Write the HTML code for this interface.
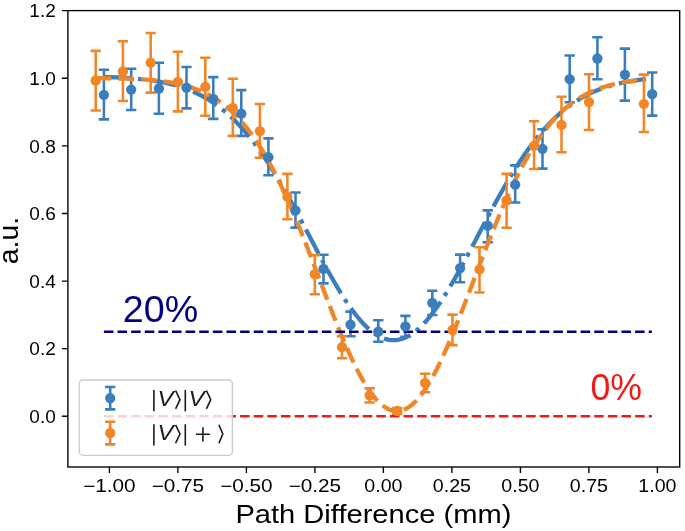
<!DOCTYPE html>
<html><head><meta charset="utf-8"><style>
html,body{margin:0;padding:0;background:#fff;width:685px;height:531px;overflow:hidden}
svg{display:block;will-change:transform}
text{font-family:"Liberation Sans",sans-serif}
</style></head><body>
<svg width="685" height="531" viewBox="0 0 685 531">
<rect x="0" y="0" width="685" height="531" fill="#ffffff"/>
<path d="M103.90,69.70V119.40M98.76,69.70H109.04M98.76,119.40H109.04M131.20,68.80V110.00M126.06,68.80H136.34M126.06,110.00H136.34M158.90,62.70V113.70M153.76,62.70H164.04M153.76,113.70H164.04M186.50,67.00V108.40M181.36,67.00H191.64M181.36,108.40H191.64M213.30,77.10V118.90M208.16,77.10H218.44M208.16,118.90H218.44M241.30,90.10V135.90M236.16,90.10H246.44M236.16,135.90H246.44M268.40,138.40V175.20M263.26,138.40H273.54M263.26,175.20H273.54M295.50,192.50V227.60M290.36,192.50H300.64M290.36,227.60H300.64M323.50,254.80V283.40M318.36,254.80H328.64M318.36,283.40H328.64M350.50,311.60V336.30M345.36,311.60H355.64M345.36,336.30H355.64M378.30,320.30V341.80M373.16,320.30H383.44M373.16,341.80H383.44M405.40,315.90V336.70M400.26,315.90H410.54M400.26,336.70H410.54M432.30,290.70V315.00M427.16,290.70H437.44M427.16,315.00H437.44M460.10,254.60V282.20M454.96,254.60H465.24M454.96,282.20H465.24M487.70,210.40V242.30M482.56,210.40H492.84M482.56,242.30H492.84M515.20,165.40V202.50M510.06,165.40H520.34M510.06,202.50H520.34M542.50,129.30V168.60M537.36,129.30H547.64M537.36,168.60H547.64M569.70,55.50V102.30M564.56,55.50H574.84M564.56,102.30H574.84M597.40,37.20V79.20M592.26,37.20H602.54M592.26,79.20H602.54M624.90,48.60V100.60M619.76,48.60H630.04M619.76,100.60H630.04M652.20,72.50V115.60M647.06,72.50H657.34M647.06,115.60H657.34" stroke="#3b7ebc" stroke-width="2.57" fill="none"/>
<path d="M103.90,76.95 L105.73,77.00 L107.56,77.06 L109.38,77.12 L111.21,77.19 L113.04,77.26 L114.87,77.33 L116.69,77.41 L118.52,77.50 L120.35,77.59 L122.18,77.69 L124.00,77.79 L125.83,77.91 L127.66,78.02 L129.49,78.15 L131.31,78.28 L133.14,78.43 L134.97,78.58 L136.80,78.74 L138.63,78.91 L140.45,79.09 L142.28,79.28 L144.11,79.48 L145.94,79.70 L147.76,79.92 L149.59,80.16 L151.42,80.42 L153.25,80.68 L155.07,80.97 L156.90,81.27 L158.73,81.58 L160.56,81.91 L162.39,82.27 L164.21,82.63 L166.04,83.02 L167.87,83.43 L169.70,83.86 L171.52,84.31 L173.35,84.79 L175.18,85.29 L177.01,85.81 L178.83,86.36 L180.66,86.93 L182.49,87.53 L184.32,88.16 L186.15,88.82 L187.97,89.51 L189.80,90.24 L191.63,90.99 L193.46,91.78 L195.28,92.60 L197.11,93.45 L198.94,94.34 L200.77,95.27 L202.59,96.24 L204.42,97.25 L206.25,98.30 L208.08,99.39 L209.90,100.52 L211.73,101.69 L213.56,102.91 L215.39,104.17 L217.22,105.48 L219.04,106.84 L220.87,108.25 L222.70,109.70 L224.53,111.20 L226.35,112.76 L228.18,114.36 L230.01,116.02 L231.84,117.73 L233.66,119.49 L235.49,121.30 L237.32,123.17 L239.15,125.09 L240.98,127.07 L242.80,129.11 L244.63,131.19 L246.46,133.34 L248.29,135.54 L250.11,137.79 L251.94,140.10 L253.77,142.47 L255.60,144.89 L257.42,147.37 L259.25,149.90 L261.08,152.49 L262.91,155.12 L264.73,157.82 L266.56,160.56 L268.39,163.35 L270.22,166.20 L272.05,169.09 L273.87,172.03 L275.70,175.02 L277.53,178.06 L279.36,181.13 L281.18,184.25 L283.01,187.41 L284.84,190.61 L286.67,193.84 L288.49,197.11 L290.32,200.41 L292.15,203.74 L293.98,207.09 L295.81,210.48 L297.63,213.88 L299.46,217.30 L301.29,220.74 L303.12,224.20 L304.94,227.66 L306.77,231.14 L308.60,234.62 L310.43,238.10 L312.25,241.57 L314.08,245.05 L315.91,248.51 L317.74,251.97 L319.56,255.40 L321.39,258.82 L323.22,262.22 L325.05,265.59 L326.88,268.92 L328.70,272.23 L330.53,275.50 L332.36,278.72 L334.19,281.91 L336.01,285.04 L337.84,288.12 L339.67,291.14 L341.50,294.11 L343.32,297.01 L345.15,299.84 L346.98,302.61 L348.81,305.29 L350.64,307.91 L352.46,310.44 L354.29,312.88 L356.12,315.24 L357.95,317.51 L359.77,319.68 L361.60,321.76 L363.43,323.74 L365.26,325.62 L367.08,327.39 L368.91,329.05 L370.74,330.61 L372.57,332.05 L374.39,333.39 L376.22,334.60 L378.05,335.70 L379.88,336.68 L381.71,337.54 L383.53,338.28 L385.36,338.90 L387.19,339.40 L389.02,339.77 L390.84,340.01 L392.67,340.14 L394.50,340.13 L396.33,340.01 L398.15,339.75 L399.98,339.38 L401.81,338.88 L403.64,338.26 L405.47,337.51 L407.29,336.65 L409.12,335.66 L410.95,334.56 L412.78,333.34 L414.60,332.00 L416.43,330.55 L418.26,328.99 L420.09,327.32 L421.91,325.55 L423.74,323.67 L425.57,321.68 L427.40,319.60 L429.22,317.42 L431.05,315.15 L432.88,312.79 L434.71,310.34 L436.54,307.81 L438.36,305.19 L440.19,302.50 L442.02,299.73 L443.85,296.90 L445.67,293.99 L447.50,291.03 L449.33,288.00 L451.16,284.92 L452.98,281.78 L454.81,278.60 L456.64,275.37 L458.47,272.10 L460.30,268.80 L462.12,265.46 L463.95,262.09 L465.78,258.69 L467.61,255.27 L469.43,251.83 L471.26,248.38 L473.09,244.91 L474.92,241.44 L476.74,237.96 L478.57,234.48 L480.40,231.00 L482.23,227.53 L484.05,224.07 L485.88,220.61 L487.71,217.17 L489.54,213.75 L491.37,210.34 L493.19,206.96 L495.02,203.61 L496.85,200.28 L498.68,196.98 L500.50,193.71 L502.33,190.48 L504.16,187.29 L505.99,184.13 L507.81,181.01 L509.64,177.94 L511.47,174.91 L513.30,171.92 L515.12,168.98 L516.95,166.09 L518.78,163.25 L520.61,160.45 L522.44,157.71 L524.26,155.02 L526.09,152.39 L527.92,149.80 L529.75,147.27 L531.57,144.80 L533.40,142.38 L535.23,140.01 L537.06,137.71 L538.88,135.45 L540.71,133.25 L542.54,131.11 L544.37,129.03 L546.20,126.99 L548.02,125.02 L549.85,123.10 L551.68,121.23 L553.51,119.42 L555.33,117.66 L557.16,115.95 L558.99,114.30 L560.82,112.70 L562.64,111.14 L564.47,109.64 L566.30,108.19 L568.13,106.79 L569.96,105.43 L571.78,104.12 L573.61,102.86 L575.44,101.65 L577.27,100.47 L579.09,99.34 L580.92,98.26 L582.75,97.21 L584.58,96.20 L586.40,95.24 L588.23,94.31 L590.06,93.42 L591.89,92.56 L593.71,91.74 L595.54,90.96 L597.37,90.21 L599.20,89.49 L601.03,88.80 L602.85,88.14 L604.68,87.51 L606.51,86.91 L608.34,86.34 L610.16,85.79 L611.99,85.27 L613.82,84.77 L615.65,84.30 L617.47,83.84 L619.30,83.42 L621.13,83.01 L622.96,82.62 L624.79,82.25 L626.61,81.90 L628.44,81.57 L630.27,81.26 L632.10,80.96 L633.92,80.67 L635.75,80.41 L637.58,80.15 L639.41,79.91 L641.23,79.69 L643.06,79.47 L644.89,79.27 L646.72,79.08 L648.54,78.90 L650.37,78.73 L652.20,78.57" stroke="#3b7ebc" stroke-width="4.29" fill="none" stroke-dasharray="27.42 6.86 4.29 6.86"/>
<path d="M95.70,50.90V110.50M90.56,50.90H100.84M90.56,110.50H100.84M122.90,41.30V101.00M117.76,41.30H128.04M117.76,101.00H128.04M150.70,33.00V92.60M145.56,33.00H155.84M145.56,92.60H155.84M177.90,51.80V111.40M172.76,51.80H183.04M172.76,111.40H183.04M205.30,57.80V115.70M200.16,57.80H210.44M200.16,115.70H210.44M232.80,78.80V135.90M227.66,78.80H237.94M227.66,135.90H237.94M259.90,104.00V157.70M254.76,104.00H265.04M254.76,157.70H265.04M287.40,173.90V219.30M282.26,173.90H292.54M282.26,219.30H292.54M314.80,255.10V294.20M309.66,255.10H319.94M309.66,294.20H319.94M342.00,336.20V358.30M336.86,336.20H347.14M336.86,358.30H347.14M369.60,388.40V402.50M364.46,388.40H374.74M364.46,402.50H374.74M397.20,408.00V414.00M392.06,408.00H402.34M392.06,414.00H402.34M425.10,373.70V392.30M419.96,373.70H430.24M419.96,392.30H430.24M452.50,314.60V345.10M447.36,314.60H457.64M447.36,345.10H457.64M479.50,247.30V292.50M474.36,247.30H484.64M474.36,292.50H484.64M506.60,173.90V227.80M501.46,173.90H511.74M501.46,227.80H511.74M534.10,121.20V169.00M528.96,121.20H539.24M528.96,169.00H539.24M561.50,96.70V152.20M556.36,96.70H566.64M556.36,152.20H566.64M589.00,74.20V130.00M583.86,74.20H594.14M583.86,130.00H594.14M643.90,74.60V132.00M638.76,74.60H649.04M638.76,132.00H649.04" stroke="#f08628" stroke-width="2.57" fill="none"/>
<path d="M95.70,78.16 L97.53,78.17 L99.35,78.19 L101.18,78.21 L103.01,78.23 L104.84,78.25 L106.66,78.28 L108.49,78.30 L110.32,78.33 L112.15,78.36 L113.97,78.39 L115.80,78.43 L117.63,78.47 L119.46,78.51 L121.28,78.55 L123.11,78.60 L124.94,78.65 L126.76,78.71 L128.59,78.77 L130.42,78.84 L132.25,78.91 L134.07,78.99 L135.90,79.07 L137.73,79.16 L139.56,79.26 L141.38,79.36 L143.21,79.47 L145.04,79.59 L146.87,79.72 L148.69,79.85 L150.52,80.00 L152.35,80.16 L154.17,80.33 L156.00,80.51 L157.83,80.70 L159.66,80.90 L161.48,81.12 L163.31,81.36 L165.14,81.61 L166.97,81.87 L168.79,82.15 L170.62,82.46 L172.45,82.78 L174.28,83.12 L176.10,83.48 L177.93,83.86 L179.76,84.27 L181.58,84.70 L183.41,85.16 L185.24,85.64 L187.07,86.16 L188.89,86.70 L190.72,87.27 L192.55,87.88 L194.38,88.52 L196.20,89.19 L198.03,89.90 L199.86,90.65 L201.69,91.44 L203.51,92.27 L205.34,93.14 L207.17,94.05 L208.99,95.01 L210.82,96.02 L212.65,97.08 L214.48,98.19 L216.30,99.35 L218.13,100.56 L219.96,101.84 L221.79,103.16 L223.61,104.55 L225.44,106.00 L227.27,107.51 L229.10,109.08 L230.92,110.72 L232.75,112.43 L234.58,114.20 L236.40,116.05 L238.23,117.97 L240.06,119.96 L241.89,122.02 L243.71,124.16 L245.54,126.38 L247.37,128.67 L249.20,131.04 L251.02,133.50 L252.85,136.03 L254.68,138.65 L256.51,141.34 L258.33,144.12 L260.16,146.99 L261.99,149.94 L263.81,152.97 L265.64,156.08 L267.47,159.28 L269.30,162.56 L271.12,165.92 L272.95,169.37 L274.78,172.90 L276.61,176.51 L278.43,180.20 L280.26,183.96 L282.09,187.81 L283.92,191.73 L285.74,195.72 L287.57,199.79 L289.40,203.92 L291.22,208.12 L293.05,212.39 L294.88,216.72 L296.71,221.10 L298.53,225.54 L300.36,230.04 L302.19,234.58 L304.02,239.17 L305.84,243.80 L307.67,248.46 L309.50,253.16 L311.33,257.89 L313.15,262.64 L314.98,267.40 L316.81,272.19 L318.63,276.98 L320.46,281.77 L322.29,286.56 L324.12,291.35 L325.94,296.12 L327.77,300.87 L329.60,305.60 L331.43,310.30 L333.25,314.96 L335.08,319.58 L336.91,324.15 L338.74,328.67 L340.56,333.12 L342.39,337.51 L344.22,341.82 L346.04,346.06 L347.87,350.21 L349.70,354.26 L351.53,358.22 L353.35,362.08 L355.18,365.83 L357.01,369.46 L358.84,372.98 L360.66,376.37 L362.49,379.62 L364.32,382.74 L366.15,385.72 L367.97,388.56 L369.80,391.24 L371.63,393.77 L373.45,396.14 L375.28,398.34 L377.11,400.38 L378.94,402.26 L380.76,403.95 L382.59,405.48 L384.42,406.82 L386.25,407.99 L388.07,408.97 L389.90,409.77 L391.73,410.38 L393.56,410.80 L395.38,411.04 L397.21,411.10 L399.04,410.96 L400.86,410.64 L402.69,410.13 L404.52,409.43 L406.35,408.55 L408.17,407.49 L410.00,406.24 L411.83,404.82 L413.66,403.21 L415.48,401.44 L417.31,399.49 L419.14,397.37 L420.97,395.09 L422.79,392.65 L424.62,390.05 L426.45,387.30 L428.27,384.40 L430.10,381.36 L431.93,378.18 L433.76,374.86 L435.58,371.42 L437.41,367.85 L439.24,364.16 L441.07,360.36 L442.89,356.46 L444.72,352.45 L446.55,348.35 L448.38,344.17 L450.20,339.89 L452.03,335.55 L453.86,331.13 L455.68,326.65 L457.51,322.11 L459.34,317.51 L461.17,312.87 L462.99,308.20 L464.82,303.48 L466.65,298.74 L468.48,293.98 L470.30,289.20 L472.13,284.41 L473.96,279.62 L475.79,274.83 L477.61,270.04 L479.44,265.26 L481.27,260.50 L483.09,255.76 L484.92,251.05 L486.75,246.36 L488.58,241.71 L490.40,237.10 L492.23,232.54 L494.06,228.01 L495.89,223.54 L497.71,219.13 L499.54,214.77 L501.37,210.47 L503.20,206.23 L505.02,202.06 L506.85,197.95 L508.68,193.92 L510.50,189.96 L512.33,186.07 L514.16,182.26 L515.99,178.53 L517.81,174.88 L519.64,171.31 L521.47,167.81 L523.30,164.40 L525.12,161.08 L526.95,157.83 L528.78,154.67 L530.61,151.60 L532.43,148.60 L534.26,145.69 L536.09,142.87 L537.91,140.12 L539.74,137.46 L541.57,134.88 L543.40,132.39 L545.22,129.97 L547.05,127.63 L548.88,125.37 L550.71,123.19 L552.53,121.08 L554.36,119.05 L556.19,117.10 L558.02,115.21 L559.84,113.40 L561.67,111.65 L563.50,109.98 L565.32,108.37 L567.15,106.82 L568.98,105.34 L570.81,103.92 L572.63,102.56 L574.46,101.26 L576.29,100.01 L578.12,98.82 L579.94,97.68 L581.77,96.60 L583.60,95.56 L585.43,94.58 L587.25,93.64 L589.08,92.74 L590.91,91.89 L592.73,91.08 L594.56,90.31 L596.39,89.58 L598.22,88.88 L600.04,88.23 L601.87,87.60 L603.70,87.01 L605.53,86.45 L607.35,85.92 L609.18,85.42 L611.01,84.95 L612.84,84.51 L614.66,84.08 L616.49,83.69 L618.32,83.31 L620.14,82.96 L621.97,82.63 L623.80,82.32 L625.63,82.03 L627.45,81.75 L629.28,81.49 L631.11,81.25 L632.94,81.02 L634.76,80.81 L636.59,80.61 L638.42,80.42 L640.25,80.25 L642.07,80.09 L643.90,79.93" stroke="#f08628" stroke-width="4.29" fill="none" stroke-dasharray="15.85 6.86"/>
<path d="M103.92,331.77H651.92" stroke="#000080" stroke-width="2.57" stroke-dasharray="9.51 4.11"/>
<path d="M103.92,416.30H651.92" stroke="#ef1a1a" stroke-width="2.57" stroke-dasharray="9.51 4.11"/>
<circle cx="103.90" cy="94.80" r="5.14" fill="#3b7ebc"/><circle cx="131.20" cy="89.60" r="5.14" fill="#3b7ebc"/><circle cx="158.90" cy="88.50" r="5.14" fill="#3b7ebc"/><circle cx="186.50" cy="87.60" r="5.14" fill="#3b7ebc"/><circle cx="213.30" cy="98.90" r="5.14" fill="#3b7ebc"/><circle cx="241.30" cy="113.70" r="5.14" fill="#3b7ebc"/><circle cx="268.40" cy="157.20" r="5.14" fill="#3b7ebc"/><circle cx="295.50" cy="210.40" r="5.14" fill="#3b7ebc"/><circle cx="323.50" cy="268.90" r="5.14" fill="#3b7ebc"/><circle cx="350.50" cy="324.60" r="5.14" fill="#3b7ebc"/><circle cx="378.30" cy="331.60" r="5.14" fill="#3b7ebc"/><circle cx="405.40" cy="326.30" r="5.14" fill="#3b7ebc"/><circle cx="432.30" cy="302.90" r="5.14" fill="#3b7ebc"/><circle cx="460.10" cy="268.10" r="5.14" fill="#3b7ebc"/><circle cx="487.70" cy="225.60" r="5.14" fill="#3b7ebc"/><circle cx="515.20" cy="184.60" r="5.14" fill="#3b7ebc"/><circle cx="542.50" cy="148.80" r="5.14" fill="#3b7ebc"/><circle cx="569.70" cy="79.20" r="5.14" fill="#3b7ebc"/><circle cx="597.40" cy="58.50" r="5.14" fill="#3b7ebc"/><circle cx="624.90" cy="74.60" r="5.14" fill="#3b7ebc"/><circle cx="652.20" cy="94.20" r="5.14" fill="#3b7ebc"/>
<circle cx="95.70" cy="80.50" r="5.14" fill="#f08628"/><circle cx="122.90" cy="71.50" r="5.14" fill="#f08628"/><circle cx="150.70" cy="62.70" r="5.14" fill="#f08628"/><circle cx="177.90" cy="81.80" r="5.14" fill="#f08628"/><circle cx="205.30" cy="86.80" r="5.14" fill="#f08628"/><circle cx="232.80" cy="107.90" r="5.14" fill="#f08628"/><circle cx="259.90" cy="131.10" r="5.14" fill="#f08628"/><circle cx="287.40" cy="196.70" r="5.14" fill="#f08628"/><circle cx="314.80" cy="274.20" r="5.14" fill="#f08628"/><circle cx="342.00" cy="347.10" r="5.14" fill="#f08628"/><circle cx="369.60" cy="395.40" r="5.14" fill="#f08628"/><circle cx="397.20" cy="410.90" r="5.14" fill="#f08628"/><circle cx="425.10" cy="383.00" r="5.14" fill="#f08628"/><circle cx="452.50" cy="330.00" r="5.14" fill="#f08628"/><circle cx="479.50" cy="269.40" r="5.14" fill="#f08628"/><circle cx="506.60" cy="200.50" r="5.14" fill="#f08628"/><circle cx="534.10" cy="145.80" r="5.14" fill="#f08628"/><circle cx="561.50" cy="124.90" r="5.14" fill="#f08628"/><circle cx="589.00" cy="102.10" r="5.14" fill="#f08628"/><circle cx="643.90" cy="103.80" r="5.14" fill="#f08628"/>
<text x="122.8" y="321.7" font-size="36.3" fill="#000080" textLength="75.3" lengthAdjust="spacingAndGlyphs">20%</text>
<text x="590.5" y="399.5" font-size="36" fill="#ef1a1a" textLength="51.5" lengthAdjust="spacingAndGlyphs">0%</text>
<rect x="79.2" y="380.0" width="153.2" height="75.4" rx="4" ry="4" fill="#ffffff" fill-opacity="0.8" stroke="#cccccc" stroke-width="1.37"/>
<path d="M110.2,387.0V409.4M105.06,387.0H115.34M105.06,409.4H115.34" stroke="#3b7ebc" stroke-width="2.57" fill="none"/>
<circle cx="110.2" cy="398.1" r="5.14" fill="#3b7ebc"/>
<path d="M110.2,421.8V444.4M105.06,421.8H115.34M105.06,444.4H115.34" stroke="#f08628" stroke-width="2.57" fill="none"/>
<circle cx="110.2" cy="433.0" r="5.14" fill="#f08628"/>
<path d="M153.90,389.90V411.30" stroke="#1a1a1a" stroke-width="1.6"/>
<text x="157.50" y="405.80" font-size="22.2" font-style="italic" fill="#1a1a1a" textLength="16.0" lengthAdjust="spacingAndGlyphs">V</text>
<path d="M175.60,390.50L180.00,399.70L175.60,408.90" stroke="#1a1a1a" stroke-width="1.6" fill="none" stroke-linejoin="miter"/>
<path d="M185.30,389.90V411.30" stroke="#1a1a1a" stroke-width="1.6"/>
<path d="M153.90,424.20V445.60" stroke="#1a1a1a" stroke-width="1.6"/>
<text x="157.50" y="440.10" font-size="22.2" font-style="italic" fill="#1a1a1a" textLength="16.0" lengthAdjust="spacingAndGlyphs">V</text>
<path d="M175.60,424.80L180.00,434.00L175.60,443.20" stroke="#1a1a1a" stroke-width="1.6" fill="none" stroke-linejoin="miter"/>
<path d="M185.30,424.20V445.60" stroke="#1a1a1a" stroke-width="1.6"/>
<text x="188.40" y="405.80" font-size="22.2" font-style="italic" fill="#1a1a1a" textLength="16.0" lengthAdjust="spacingAndGlyphs">V</text>
<path d="M206.40,390.50L210.80,399.70L206.40,408.90" stroke="#1a1a1a" stroke-width="1.6" fill="none" stroke-linejoin="miter"/>
<path d="M196.0,434.3H209.8M202.9,427.2V441.4" stroke="#1a1a1a" stroke-width="1.6"/>
<path d="M218.90,424.80L222.80,434.00L218.90,443.20" stroke="#1a1a1a" stroke-width="1.6" fill="none" stroke-linejoin="miter"/>
<rect x="67.9" y="10.6" width="611.80" height="456.40" fill="none" stroke="#000" stroke-width="1.37"/>
<path d="M109.40,467.00V473.00M177.90,467.00V473.00M246.40,467.00V473.00M314.90,467.00V473.00M383.40,467.00V473.00M451.90,467.00V473.00M520.40,467.00V473.00M588.90,467.00V473.00M657.40,467.00V473.00M67.90,416.30H61.90M67.90,348.68H61.90M67.90,281.06H61.90M67.90,213.44H61.90M67.90,145.82H61.90M67.90,78.20H61.90M67.90,10.58H61.90" stroke="#000" stroke-width="1.37"/>
<text x="109.40" y="492.3" font-size="17.6" text-anchor="middle" textLength="52.5" lengthAdjust="spacingAndGlyphs">−1.00</text>
<text x="177.90" y="492.3" font-size="17.6" text-anchor="middle" textLength="52.5" lengthAdjust="spacingAndGlyphs">−0.75</text>
<text x="246.40" y="492.3" font-size="17.6" text-anchor="middle" textLength="52.5" lengthAdjust="spacingAndGlyphs">−0.50</text>
<text x="314.90" y="492.3" font-size="17.6" text-anchor="middle" textLength="52.5" lengthAdjust="spacingAndGlyphs">−0.25</text>
<text x="383.40" y="492.3" font-size="17.6" text-anchor="middle" textLength="38.2" lengthAdjust="spacingAndGlyphs">0.00</text>
<text x="451.90" y="492.3" font-size="17.6" text-anchor="middle" textLength="38.2" lengthAdjust="spacingAndGlyphs">0.25</text>
<text x="520.40" y="492.3" font-size="17.6" text-anchor="middle" textLength="38.2" lengthAdjust="spacingAndGlyphs">0.50</text>
<text x="588.90" y="492.3" font-size="17.6" text-anchor="middle" textLength="38.2" lengthAdjust="spacingAndGlyphs">0.75</text>
<text x="657.40" y="492.3" font-size="17.6" text-anchor="middle" textLength="38.2" lengthAdjust="spacingAndGlyphs">1.00</text>
<text x="55.8" y="423.00" font-size="17.6" text-anchor="end" textLength="26.5" lengthAdjust="spacingAndGlyphs">0.0</text>
<text x="55.8" y="355.38" font-size="17.6" text-anchor="end" textLength="26.5" lengthAdjust="spacingAndGlyphs">0.2</text>
<text x="55.8" y="287.76" font-size="17.6" text-anchor="end" textLength="26.5" lengthAdjust="spacingAndGlyphs">0.4</text>
<text x="55.8" y="220.14" font-size="17.6" text-anchor="end" textLength="26.5" lengthAdjust="spacingAndGlyphs">0.6</text>
<text x="55.8" y="152.52" font-size="17.6" text-anchor="end" textLength="26.5" lengthAdjust="spacingAndGlyphs">0.8</text>
<text x="55.8" y="84.90" font-size="17.6" text-anchor="end" textLength="26.5" lengthAdjust="spacingAndGlyphs">1.0</text>
<text x="55.8" y="17.28" font-size="17.6" text-anchor="end" textLength="26.5" lengthAdjust="spacingAndGlyphs">1.2</text>
<text x="373.4" y="523" font-size="26" text-anchor="middle" textLength="276" lengthAdjust="spacingAndGlyphs">Path Difference (mm)</text>
<text transform="translate(18.3,240.5) rotate(-90)" font-size="28.5" text-anchor="middle" textLength="47.5" lengthAdjust="spacingAndGlyphs">a.u.</text>
</svg>
</body></html>
